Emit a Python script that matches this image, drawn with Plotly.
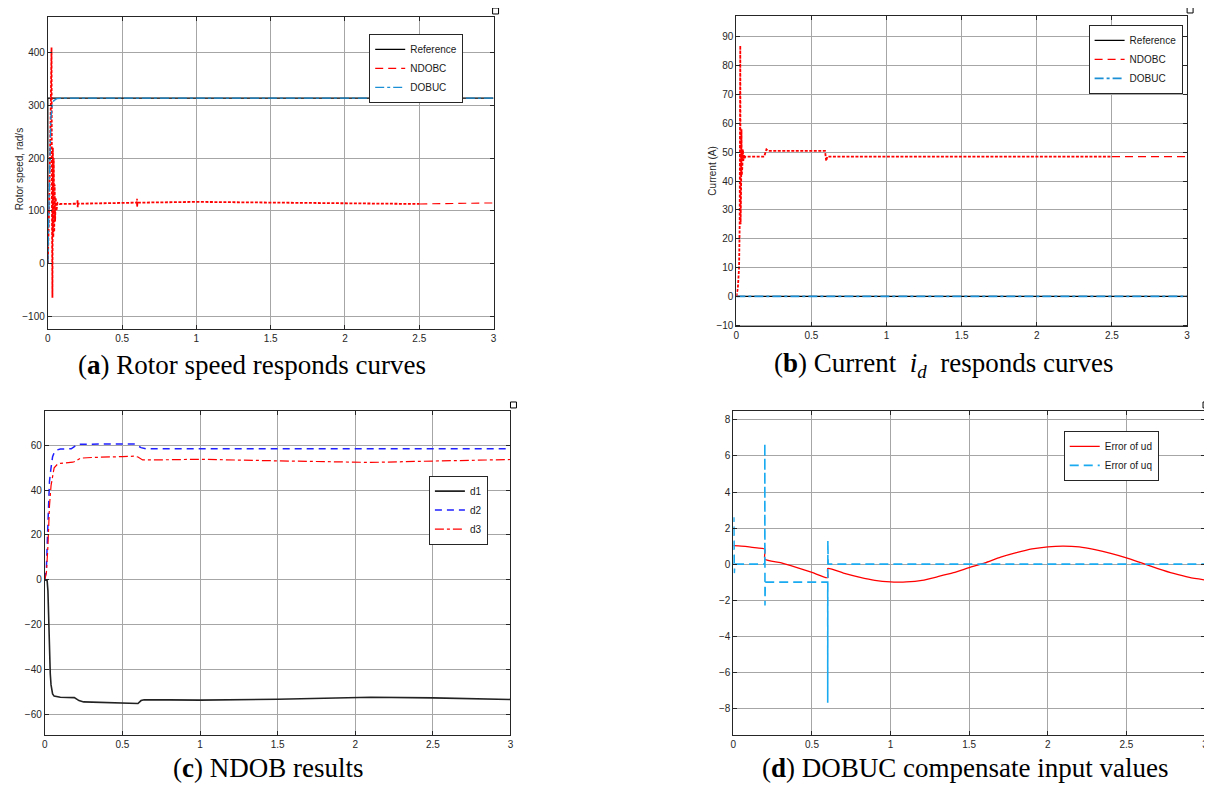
import plotly.graph_objects as go

# ---------------- data ----------------
# (a) rotor speed
t_a_ref = [0, 0, 3.0]
v_a_ref = [0, 314, 314]
t_a_ndobc = [0, 0.01, 0.02, 0.025, 0.028, 0.031, 0.034, 0.037, 0.040, 0.043, 0.046, 0.049,
             0.053, 0.058, 0.065, 0.08, 0.1, 0.199, 0.2, 0.201, 0.203, 0.5, 0.599, 0.6, 0.601,
             0.603, 1.0, 1.5, 2.0, 2.5, 2.75, 3.0]
v_a_ndobc = [0, 120, 300, 410, 100, -65, 220, 50, 200, 60, 150, 80,
             125, 100, 115, 113, 113, 113.5, 121, 107, 113.5, 115, 115.5, 123, 108,
             115.5, 117, 116, 114, 113, 114, 115]
t_a_dobuc = [0, 0.005, 0.01, 0.015, 0.02, 0.03, 0.04, 0.06, 0.1, 3.0]
v_a_dobuc = [0, 80, 180, 240, 275, 300, 309, 313, 314, 314]

# (b) current id
t_b_ref = [0, 3.0]
v_b_ref = [0, 0]
t_b_ndobc = [0, 0.01, 0.018, 0.022, 0.026, 0.028, 0.030, 0.032, 0.034, 0.036, 0.038, 0.040,
             0.043, 0.046, 0.050, 0.055, 0.060, 0.08, 0.185, 0.2, 0.205, 0.21, 0.59, 0.598,
             0.605, 0.61, 1.0, 2.0, 2.5, 3.0]
v_b_ndobc = [0, 3, 10, 25, 87, 25, 62, 40, 58, 42, 53, 45,
             51, 47, 49, 48, 48.5, 48.5, 48.5, 51, 50.5, 50.5, 50.5, 47,
             48.5, 48.5, 48.5, 48.5, 48.5, 48.5]
t_b_dobuc = [0, 3.0]
v_b_dobuc = [0, 0]

# (c) NDOB results
t_c_d1 = [0, 0.015, 0.02, 0.025, 0.03, 0.035, 0.04, 0.05, 0.06, 0.08, 0.1, 0.19, 0.22, 0.25,
          0.4, 0.58, 0.6, 0.62, 0.64, 0.8, 1.0, 1.5, 2.0, 2.1, 2.5, 3.0]
v_c_d1 = [0, -0.5, -5, -20, -32, -42, -47, -51, -52, -52.3, -52.5, -52.7, -54, -54.6,
          -54.9, -55.2, -55.3, -54, -53.6, -53.7, -53.8, -53.4, -52.6, -52.5, -52.8, -53.5]
t_c_d2 = [0, 0.01, 0.02, 0.03, 0.04, 0.05, 0.062, 0.08, 0.1, 0.17, 0.19, 0.21, 0.4, 0.58,
          0.62, 0.65, 1.0, 2.0, 3.0]
v_c_d2 = [0, 5, 25, 44, 50, 55, 57, 58, 58.4, 58.5, 59.5, 60.5, 60.6, 60.6,
          59, 58.5, 58.5, 58.6, 58.5]
t_c_d3 = [0, 0.01, 0.02, 0.03, 0.04, 0.05, 0.06, 0.08, 0.1, 0.18, 0.2, 0.23, 0.3, 0.5, 0.58,
          0.6, 0.63, 0.8, 1.0, 1.5, 2.0, 2.1, 2.5, 3.0]
v_c_d3 = [0, 3, 15, 33, 42, 47, 50, 51.5, 52, 52.5, 53, 54.3, 54.6, 55, 55.2,
          54.8, 53.5, 53.6, 53.8, 53.1, 52.5, 52.4, 53, 53.7]

# (d) DOBUC compensate input values
t_d_ud = [0, 0.05, 0.1, 0.15, 0.2, 0.2, 0.3, 0.4, 0.5, 0.6, 0.6, 0.7, 0.8, 0.9, 1.0, 1.05,
          1.1, 1.2, 1.3, 1.4, 1.5, 1.6, 1.7, 1.8, 1.9, 2.0, 2.1, 2.2, 2.3, 2.4, 2.5, 2.6,
          2.7, 2.8, 2.9, 3.0]
v_d_ud = [1.02, 1.0, 0.96, 0.9, 0.83, 0.28, 0.08, -0.18, -0.46, -0.75, -0.24, -0.5, -0.72,
          -0.9, -0.99, -1.0, -0.99, -0.9, -0.7, -0.48, -0.2, 0.07, 0.38, 0.63, 0.84, 0.96,
          1.0, 0.95, 0.8, 0.6, 0.35, 0.05, -0.25, -0.52, -0.74, -0.88]
t_d_uq = [0, 0.003, 0.006, 0.009, 0.2, 0.2, 0.201, 0.203, 0.6, 0.6, 0.601, 0.603, 3.0]
v_d_uq = [0, 2.6, -0.5, 0, 0, 6.7, -2.3, -1, -1, -7.7, 1.3, 0, 0]

x_ticks = [0, 0.5, 1, 1.5, 2, 2.5, 3]
x_tick_labels = ["0", "0.5", "1", "1.5", "2", "2.5", "3"]
y_ticks_a = [-100, 0, 100, 200, 300, 400]
y_ticks_b = [-10, 0, 10, 20, 30, 40, 50, 60, 70, 80, 90]
y_ticks_c = [-60, -40, -20, 0, 20, 40, 60]
y_ticks_d = [-8, -6, -4, -2, 0, 2, 4, 6, 8]

captions = ["(<b>a</b>) Rotor speed responds curves",
            "(<b>b</b>) Current  <i>i<sub>d</sub></i>  responds curves",
            "(<b>c</b>) NDOB results",
            "(<b>d</b>) DOBUC compensate input values"]

# ---------------- styles ----------------
OFF = 8                      # page body margin of the html page
W, H = 1212 - OFF, 792 - OFF
RED = "#ff0000"
BLUE_A = "#1a8fd6"
BLUE_LIGHT = "#19aaf0"
TICKFONT = dict(family="Liberation Sans, Arial", size=10, color="#262626")
LEGFONT = dict(family="Liberation Sans, Arial", size=10, color="#1a1a1a")


def split(t, v, cut):
    a = [(ti, vi) for ti, vi in zip(t, v) if ti <= cut]
    b = [(ti, vi) for ti, vi in zip(t, v) if ti >= cut]
    return [p[0] for p in a], [p[1] for p in a], [p[0] for p in b], [p[1] for p in b]


fig = go.Figure()

# (a)
fig.add_trace(go.Scatter(x=t_a_ref, y=v_a_ref, mode="lines", name="Reference",
                         line=dict(color="black", width=1.2), xaxis="x", yaxis="y",
                         legend="legend", legendrank=1))
ta1, va1, ta2, va2 = split(t_a_ndobc, v_a_ndobc, 2.5)
fig.add_trace(go.Scatter(x=ta1, y=va1, mode="lines", name="NDOBC", showlegend=False,
                         line=dict(color=RED, width=1.8, dash="3px,1.5px"),
                         xaxis="x", yaxis="y", legend="legend"))
fig.add_trace(go.Scatter(x=ta2, y=va2, mode="lines", name="NDOBC",
                         line=dict(color=RED, width=1.1, dash="8px,5px"),
                         xaxis="x", yaxis="y", legend="legend", legendrank=2))
fig.add_trace(go.Scatter(x=t_a_dobuc, y=v_a_dobuc, mode="lines", name="DOBUC",
                         line=dict(color=BLUE_A, width=1.4, dash="dashdot"),
                         xaxis="x", yaxis="y", legend="legend", legendrank=3))

# (b)
fig.add_trace(go.Scatter(x=t_b_ref, y=v_b_ref, mode="lines", name="Reference",
                         line=dict(color="black", width=1.1),
                         xaxis="x2", yaxis="y2", legend="legend2", legendrank=1))
fig.add_trace(go.Scatter(x=t_b_dobuc, y=v_b_dobuc, mode="lines", name="DOBUC",
                         line=dict(color=BLUE_A, width=1.8, dash="dashdot"),
                         xaxis="x2", yaxis="y2", legend="legend2", legendrank=3))
tb1, vb1, tb2, vb2 = split(t_b_ndobc, v_b_ndobc, 2.5)
fig.add_trace(go.Scatter(x=tb1, y=vb1, mode="lines", name="NDOBC", showlegend=False,
                         line=dict(color=RED, width=1.8, dash="3px,1.5px"),
                         xaxis="x2", yaxis="y2", legend="legend2"))
fig.add_trace(go.Scatter(x=tb2, y=vb2, mode="lines", name="NDOBC",
                         line=dict(color=RED, width=1.1, dash="8px,5px"),
                         xaxis="x2", yaxis="y2", legend="legend2", legendrank=2))

# (c)
fig.add_trace(go.Scatter(x=t_c_d1, y=v_c_d1, mode="lines", name="d1",
                         line=dict(color="#222222", width=1.6),
                         xaxis="x3", yaxis="y3", legend="legend3"))
fig.add_trace(go.Scatter(x=t_c_d2, y=v_c_d2, mode="lines", name="d2",
                         line=dict(color="#2020ff", width=1.5, dash="7px,5px"),
                         xaxis="x3", yaxis="y3", legend="legend3"))
fig.add_trace(go.Scatter(x=t_c_d3, y=v_c_d3, mode="lines", name="d3",
                         line=dict(color=RED, width=1.2, dash="dashdot"),
                         xaxis="x3", yaxis="y3", legend="legend3"))

# (d)
fig.add_trace(go.Scatter(x=t_d_ud, y=v_d_ud, mode="lines", name="Error of ud",
                         line=dict(color=RED, width=1.3, shape="spline", smoothing=0.6),
                         xaxis="x4", yaxis="y4", legend="legend4"))
fig.add_trace(go.Scatter(x=t_d_uq, y=v_d_uq, mode="lines", name="Error of uq",
                         line=dict(color=BLUE_LIGHT, width=1.6, dash="9px,5px"),
                         xaxis="x4", yaxis="y4", legend="legend4"))


def px_x(p):
    return (p - OFF) / W


def px_y(p):
    return 1 - (p - OFF) / H


def xax(dom, anchor):
    return dict(domain=dom, anchor=anchor, range=[0, 3], tickvals=x_ticks,
                ticktext=x_tick_labels, showgrid=True, gridcolor="#a6a6a6", gridwidth=1,
                zeroline=False, showline=True, linecolor="#262626", linewidth=1,
                mirror="ticks", ticks="inside", ticklen=4, tickcolor="#262626",
                tickfont=TICKFONT)


def yax(dom, anchor, rng, tv):
    return dict(domain=dom, anchor=anchor, range=rng, tickvals=tv,
                showgrid=True, gridcolor="#a6a6a6", gridwidth=1,
                zeroline=False, showline=True, linecolor="#262626", linewidth=1,
                mirror="ticks", ticks="inside", ticklen=4, tickcolor="#262626",
                tickfont=TICKFONT)


dom_a = ([px_x(45), px_x(493)], [px_y(331), px_y(17)])
dom_b = ([px_x(737), px_x(1190)], [px_y(328), px_y(16)])
dom_c = ([px_x(42), px_x(510)], [px_y(739), px_y(413)])
dom_d = ([px_x(734), px_x(1208)], [px_y(739), px_y(413)])


def leg(x, y):
    return dict(x=px_x(x), y=px_y(y), xanchor="left", yanchor="top", bgcolor="white",
                bordercolor="#262626", borderwidth=1, font=LEGFONT,
                traceorder="normal", itemwidth=30, tracegroupgap=0)


fig.update_layout(
    width=W, height=H, margin=dict(l=0, r=0, t=0, b=0),
    paper_bgcolor="white", plot_bgcolor="white",
    xaxis=xax(dom_a[0], "y"), yaxis=yax(dom_a[1], "x", [-125, 468], y_ticks_a),
    xaxis2=xax(dom_b[0], "y2"), yaxis2=yax(dom_b[1], "x2", [-10.4, 97.3], y_ticks_b),
    xaxis3=xax(dom_c[0], "y3"), yaxis3=yax(dom_c[1], "x3", [-69.5, 75.4], y_ticks_c),
    xaxis4=xax(dom_d[0], "y4"), yaxis4=yax(dom_d[1], "x4", [-9.5, 8.5], y_ticks_d),
    legend=leg(368, 34), legend2=leg(1091, 25), legend3=leg(428, 478),
    legend4=leg(1066, 433),
    showlegend=True,
)

ann = []
ann.append(dict(text="Rotor speed, rad/s", x=px_x(16), y=px_y(170), xref="paper",
                yref="paper", textangle=-90, showarrow=False, font=TICKFONT,
                xanchor="center", yanchor="middle"))
ann.append(dict(text="Current (A)", x=px_x(713), y=px_y(172), xref="paper",
                yref="paper", textangle=-90, showarrow=False, font=TICKFONT,
                xanchor="center", yanchor="middle"))
cap_pos = [(250, 367), (945, 367), (266, 772), (967, 772)]
for txt, (cx, cy) in zip(captions, cap_pos):
    ann.append(dict(text=txt, x=px_x(cx), y=px_y(cy), xref="paper", yref="paper",
                    showarrow=False, xanchor="center", yanchor="middle",
                    font=dict(family="Liberation Serif, Times New Roman", size=27,
                              color="black")))
fig.update_layout(annotations=ann)

# small corner icons
shapes = []
for (ix, iy) in [(495, 11), (1193, 10), (513, 407), (1209, 407)]:
    shapes.append(dict(type="rect", xref="paper", yref="paper",
                       x0=px_x(ix - 3), x1=px_x(ix + 3), y0=px_y(iy + 3), y1=px_y(iy - 3),
                       line=dict(color="black", width=1), fillcolor="white"))
fig.update_layout(shapes=shapes)

fig.write_html("out.html")
